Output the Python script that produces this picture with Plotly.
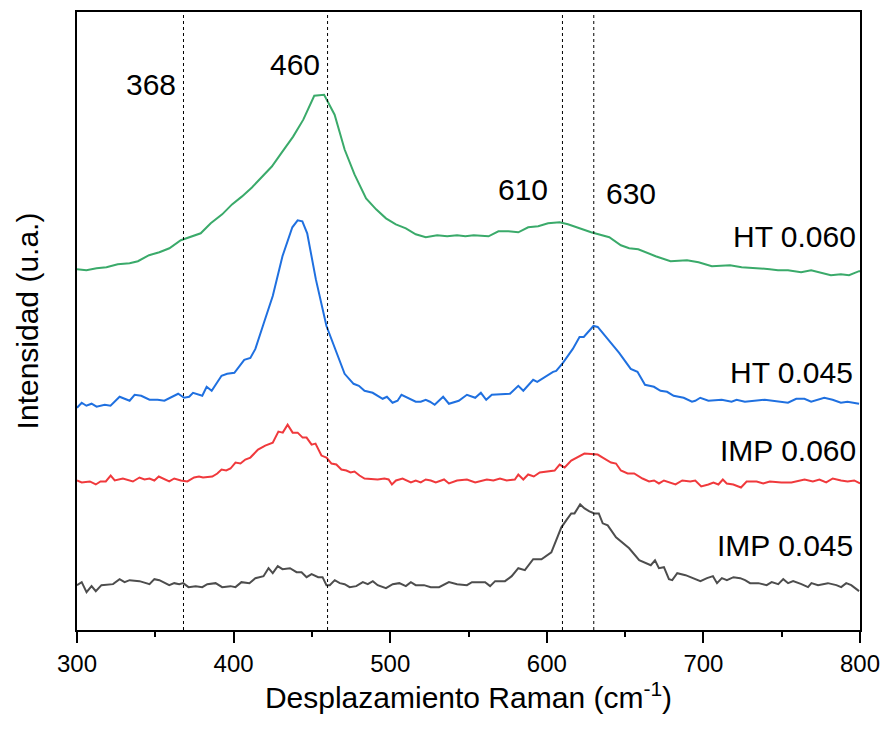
import plotly.graph_objects as go

# ---------------- data (Raman shift in cm^-1, intensity in a.u.) ----------------
ht060_x = [300, 306, 312.5, 318.8, 326, 333.6, 338.9, 346, 352.6, 359, 366.3, 373.7, 379, 385.4, 392.7, 399,
           405.4, 411.7, 418, 424.4, 430.7, 438, 444.5, 451.5, 457.8, 464.5, 470.9, 477.2, 484.6, 491, 497.3,
           503.6, 510, 516.3, 522.7, 530, 536.4, 542.7, 548, 553.3, 562.8, 569.1, 575.5, 581.8, 588.1, 594.5,
           600.8, 608.2, 613.5, 620.9, 628.3, 639.9, 647.3, 652.6, 658.4, 669.5, 679, 689.5, 696.9, 705.4,
           717, 724.4, 735, 742.4, 747.6, 754, 762.4, 768.8, 781.4, 787.8, 793, 799.4, 806.8]
ht060_y = [359, 358, 360, 361, 364, 365, 367, 373, 376, 380, 388, 392, 395, 405, 414, 424,
           432, 441, 451, 462, 476, 492, 509, 533, 534, 514, 479, 454, 430, 419, 410,
           404, 400, 394, 391, 393, 392, 393, 392, 393, 392, 397, 397, 396, 401, 402,
           405, 406, 404, 400, 396, 391, 383, 380, 379, 372, 367, 368, 366, 362,
           363, 361, 360, 359, 358, 358, 356, 358, 353, 354, 353, 357, 356]

ht045_x = [300, 303, 306, 309.3, 312.5, 317.7, 321.4, 327.2, 330.4, 333.6, 336.8, 341, 346.3, 351.5, 355.8,
           360, 364.6, 368.4, 371.6, 374.1, 380, 382.8, 386, 392.3, 395.9, 400.5, 406.8, 410.7, 413.9, 419.1,
           425, 431.2, 437.5, 440.9, 443.9, 447, 452.5, 459.3, 465.2, 470.9, 476.6, 480, 483.6, 488.8, 495.2,
           497.9, 501.5, 504.7, 507.2, 511, 516.3, 519.5, 522.7, 525.4, 528.4, 533.8, 537.5, 543.8, 549,
           554.3, 557.9, 561.3, 564.9, 576.5, 581.8, 585, 591.3, 593.9, 604, 606, 610.3, 616.6, 620.9, 623.6,
           629.8, 632.5, 639.9, 646.2, 653.6, 657.9, 662.7, 668.4, 672.6, 676.8, 681, 687.4, 692.7, 694.8,
           698, 703.2, 711.7, 718, 721.2, 726.5, 739.2, 754, 759.3, 764.5, 768.8, 777.2, 782.5, 787.8, 792,
           799.4]
ht045_y = [220, 225, 222, 224, 221, 223, 222, 231, 229, 227, 233, 232, 228, 228, 227,
           230, 234, 230, 231, 235, 232, 241, 237, 252, 254, 255, 268, 270, 279, 304,
           332, 372, 401, 408, 407, 395, 349, 302, 277, 254, 244, 242, 237, 235, 229,
           231, 225, 227, 233, 230, 226, 226, 228, 226, 223, 231, 224, 227, 233,
           230, 235, 228, 233, 234, 242, 237, 248, 246, 256, 257, 265, 279, 291, 291,
           302, 301, 287, 275, 259, 256, 243, 241, 237, 236, 232, 230, 226, 227,
           230, 227, 228, 226, 228, 226, 228, 225, 229, 229, 226, 230, 228, 225, 226,
           224]

imp060_x = [300, 303, 308.2, 312, 315, 318.4, 321.5, 324.1, 329.3, 335.7, 339.9, 343.1, 346.3, 349.4, 352.2,
            355.1, 358.9, 362.1, 366.3, 370.5, 374.8, 377.9, 380.5, 386.4, 389.6, 392.3, 395.3, 398, 401.2,
            404.4, 407.5, 410.7, 415.6, 420.2, 425, 428.6, 431.4, 434.5, 437.7, 440.9, 444.1, 446.6, 449.8,
            452.3, 456.1, 459.3, 462.5, 465.6, 468.8, 472, 474.7, 477.2, 480.4, 483.6, 492, 496.3, 499, 501.1,
            503.7, 507.9, 513.2, 516.3, 519.5, 522.7, 525.9, 529.1, 534.4, 537.5, 542.7, 549, 554.3, 561.7,
            565.9, 570.1, 574.4, 579.6, 581.8, 585, 588.1, 591.7, 595.5, 605, 608.2, 611.4, 615.6, 624, 632.5,
            635.7, 641, 644.2, 647.3, 651.6, 655.8, 661.1, 665.3, 668.5, 671.6, 674.8, 678, 682.2, 686.5,
            691.6, 694.8, 698.6, 703.2, 706.4, 709.6, 712.4, 714.9, 719.1, 724, 727.6, 734, 738.2, 742.4,
            749.8, 756.2, 764.6, 769.9, 774.1, 778.4, 782.6, 787.9, 792.1, 796.3, 800]
imp060_y = [147, 145, 146, 143, 146, 146, 152, 147, 149, 146, 150, 148, 149, 147, 151,
            149, 146, 149, 147, 146, 150, 151, 150, 151, 154, 158, 157, 159, 165,
            164, 168, 170, 178, 182, 185, 196, 195, 203, 195, 195, 190, 190, 183,
            184, 172, 170, 164, 163, 158, 157, 155, 156, 152, 149, 148, 149, 148, 143,
            147, 149, 145, 147, 145, 148, 147, 145, 148, 144, 147, 148, 145, 148,
            147, 149, 147, 148, 153, 148, 153, 151, 155, 157, 163, 160, 167, 174, 173,
            170, 165, 164, 157, 154, 154, 149, 146, 147, 144, 147, 145, 143, 147,
            146, 147, 141, 143, 145, 143, 148, 144, 143, 140, 146, 146, 144, 146,
            145, 145, 148, 146, 148, 145, 149, 147, 146, 147, 144]

imp045_x = [300, 303, 306.1, 309.3, 312, 315.6, 323, 327.2, 330.4, 333.6, 339.9, 346.3, 349.4, 352.6, 358.9,
            362.1, 365.3, 367.8, 371.2, 375.8, 380, 383.2, 388.5, 392.7, 398, 401.2, 405, 410.1, 413.9, 419.1,
            422.3, 425, 428.2, 431.2, 436, 440.2, 443.4, 446.6, 449.8, 454, 456.8, 459.3, 461.4, 464.6, 467.8,
            470.9, 474.1, 478.3, 482.5, 485.7, 488.9, 492, 497.3, 501.6, 505.8, 510, 513.2, 516.3, 521.6,
            525.9, 531.2, 537.5, 542.7, 549, 552.2, 557.5, 560.6, 563.8, 567, 573.3, 577.6, 581.8, 586,
            591.3, 596.6, 602.9, 609.3, 612.4, 615.6, 617.7, 621.3, 624.1, 627.2, 630.4, 633.2, 635.7, 638.9,
            644.2, 648.4, 652.6, 659, 663.2, 666.4, 669.1, 671.6, 674.8, 678, 680.1, 683.3, 688.6, 692.8,
            698.1, 702.3, 706.1, 708.7, 711.8, 715, 719.2, 723.5, 726.6, 729.8, 735.1, 740.4, 743.6, 747.8,
            751, 754.1, 757.3, 762.6, 766.8, 769, 773.2, 779.5, 784.9, 788, 791.2, 794.4, 799.4]
imp045_y = [42, 45, 35, 41, 36, 42, 43, 48, 45, 47, 46, 43, 48, 47, 42,
            44, 43, 44, 40, 41, 40, 43, 44, 40, 41, 40, 45, 44, 49, 51,
            59, 54, 61, 58, 59, 55, 55, 50, 53, 50, 50, 42, 42, 47, 44,
            43, 40, 41, 45, 43, 46, 42, 39, 43, 44, 41, 45, 42, 42,
            40, 40, 45, 43, 42, 45, 45, 45, 41, 46, 46, 51, 59, 57,
            68, 68, 75, 100, 107, 114, 114, 123, 119, 116, 114, 114, 104, 102,
            90, 84, 79, 67, 64, 62, 67, 59, 60, 48, 47, 54, 52, 49,
            46, 49, 51, 44, 49, 47, 50, 49, 47, 44, 44, 42, 45, 43,
            48, 44, 46, 43, 40, 44, 42, 44, 42, 40, 44, 42, 36]

series_names = ["HT 0.060", "HT 0.045", "IMP 0.060", "IMP 0.045"]
series_colors = ["#3aaa6a", "#1f70e0", "#f0393c", "#4d4d4d"]
ref_lines = [368, 460, 610, 630]
peak_labels = ["368", "460", "610", "630"]

# label positions (layout, not data)
peak_pos = [(347, 544), (439.5, 564), (585, 439), (654, 435)]
name_pos = [(799, 392), (797, 255), (799, 177), (797, 82)]

FONT = "Arial, Liberation Sans, sans-serif"

fig = go.Figure()
xs = [ht060_x, ht045_x, imp060_x, imp045_x]
ys = [ht060_y, ht045_y, imp060_y, imp045_y]
for name, col, x, y in zip(series_names, series_colors, xs, ys):
    fig.add_trace(go.Scatter(x=x, y=y, mode="lines", name=name,
                             line=dict(color=col, width=2), showlegend=False))

for xv in ref_lines:
    fig.add_shape(type="line", xref="x", yref="paper", x0=xv, x1=xv, y0=0, y1=1,
                  line=dict(color="black", width=1, dash="3px,3px"))

for lbl, (px, py) in zip(peak_labels, peak_pos):
    fig.add_annotation(x=px, y=py, xref="x", yref="y", text=lbl, showarrow=False,
                       xanchor="center", yanchor="middle",
                       font=dict(family=FONT, size=30, color="black"))

for lbl, (px, py) in zip(series_names, name_pos):
    fig.add_annotation(x=px, y=py, xref="x", yref="y", text=lbl, showarrow=False,
                       xanchor="right", yanchor="middle",
                       font=dict(family=FONT, size=30, color="black"))

fig.update_layout(
    width=890, height=729,
    margin=dict(l=77, r=23, t=10, b=99),
    paper_bgcolor="white", plot_bgcolor="white",
    font=dict(family=FONT, color="black"),
    xaxis=dict(range=[300, 800], dtick=100, tick0=300, ticks="outside", ticklen=11,
               tickwidth=1.5, tickcolor="black", showline=True, linecolor="black",
               linewidth=1.5, mirror=True, showgrid=False, zeroline=False,
               tickfont=dict(size=24, family=FONT),
               minor=dict(dtick=50, ticks="outside", ticklen=5, tickwidth=1.5,
                          tickcolor="black", showgrid=False),
               title=dict(text="Desplazamiento Raman (cm<sup>-1</sup>)",
                          font=dict(size=30, family=FONT), standoff=0)),
    yaxis=dict(range=[-3, 617], showticklabels=False, ticks="", showline=True,
               linecolor="black", linewidth=1.5, mirror=True, showgrid=False,
               zeroline=False,
               title=dict(text="Intensidad (u.a.)", font=dict(size=30, family=FONT),
                          standoff=28)),
)

fig.write_html("out.html")
